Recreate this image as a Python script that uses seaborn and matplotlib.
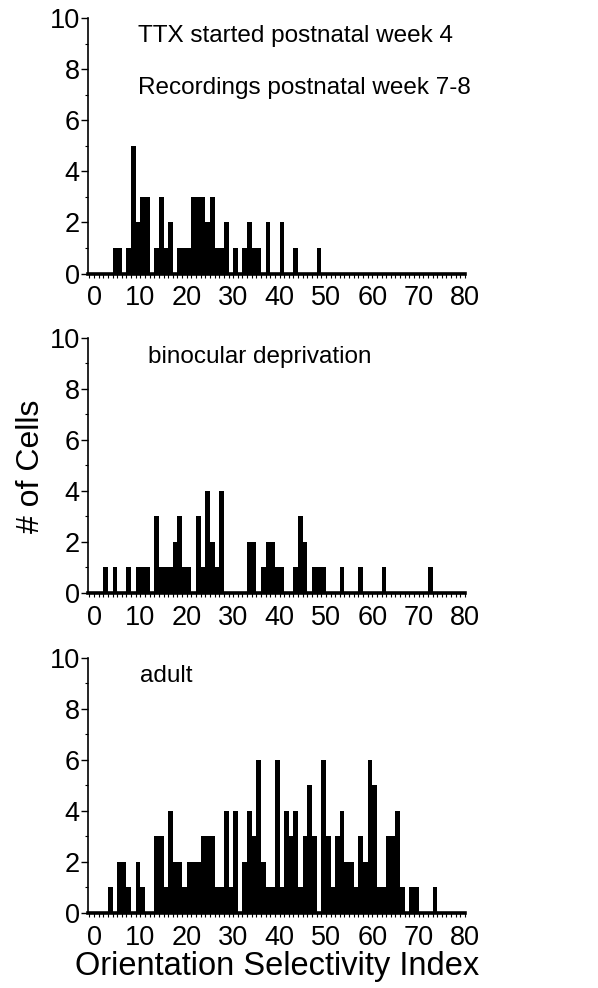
import numpy as np
import pandas as pd
import seaborn as sns
import matplotlib
matplotlib.use("Agg")
import matplotlib.pyplot as plt
from matplotlib.ticker import MultipleLocator

# Orientation selectivity index histograms (bin start, cell count), 1-unit bins
ttx_bins = [4, 5, 7, 8, 9, 10, 11, 13, 14, 15, 16, 18, 19, 20, 21, 22, 23, 24, 25,
            26, 27, 28, 30, 32, 33, 34, 35, 37, 40, 43, 48]
ttx_counts = [1, 1, 1, 5, 2, 3, 3, 1, 3, 1, 2, 1, 1, 1, 3, 3, 3, 2, 3,
              1, 1, 2, 1, 1, 2, 1, 1, 2, 2, 1, 1]

bd_bins = [2, 4, 7, 9, 10, 11, 13, 14, 15, 16, 17, 18, 19, 20, 22, 23, 24, 25, 26,
           27, 33, 34, 36, 37, 38, 39, 40, 43, 44, 45, 47, 48, 49, 53, 57, 62, 72]
bd_counts = [1, 1, 1, 1, 1, 1, 3, 1, 1, 1, 2, 3, 1, 1, 3, 1, 4, 2, 1,
             4, 2, 2, 1, 2, 2, 1, 1, 1, 3, 2, 1, 1, 1, 1, 1, 1, 1]

adult_bins = [3, 5, 6, 7, 9, 10, 13, 14, 15, 16, 17, 18, 19, 20, 21, 22, 23, 24, 25,
              26, 27, 28, 29, 30, 32, 33, 34, 35, 36, 37, 38, 39, 40, 41, 42, 43, 44,
              45, 46, 47, 49, 50, 51, 52, 53, 54, 55, 56, 57, 58, 59, 60, 61, 62, 63,
              64, 65, 66, 68, 69, 73]
adult_counts = [1, 2, 2, 1, 2, 1, 3, 3, 1, 4, 2, 2, 1, 2, 2, 2, 3, 3, 3,
                1, 1, 4, 1, 4, 2, 4, 3, 6, 2, 1, 1, 6, 1, 4, 3, 4, 1,
                3, 5, 3, 6, 3, 1, 3, 4, 2, 2, 1, 3, 2, 6, 5, 1, 1, 3,
                3, 4, 1, 1, 1, 1]

panel_titles = [["TTX started postnatal week 4", "Recordings postnatal week 7-8"],
                ["binocular deprivation"],
                ["adult"]]
x_ticks = [0, 10, 20, 30, 40, 50, 60, 70, 80]
y_ticks = [0, 2, 4, 6, 8, 10]

sns.set_theme(style="ticks")
plt.rcParams["font.family"] = ["Liberation Sans", "DejaVu Sans"]

W, H = 598, 988
fig = plt.figure(figsize=(W / 100, H / 100), dpi=100)

# axes placement in pixels: (zero line y, ten line y)
rows = [(273.5, 18), (592.7, 338), (912.7, 658)]
left_px, right_px = 88, 465

datasets = [(ttx_bins, ttx_counts), (bd_bins, bd_counts), (adult_bins, adult_counts)]
title_pos = [[(9.5, 9.3), (9.5, 7.25)], [(11.6, 9.25)], [(9.9, 9.3)]]

for (y0, y10), (b, c), titles, tpos in zip(rows, datasets, panel_titles, title_pos):
    ax = fig.add_axes([left_px / W, 1 - y0 / H, (right_px - left_px) / W, (y0 - y10) / H])
    df = pd.DataFrame({"osi": np.array(b, dtype=float) + 0.5,
                       "n": np.array(c, dtype=float)})
    sns.histplot(data=df, x="osi", weights="n", binwidth=1, binrange=(0, 80),
                 color="black", alpha=1, linewidth=0, edgecolor="black", ax=ax)
    ax.set_xlim(-1.3, 80)
    ax.set_ylim(0, 10)
    ax.set_xlabel("")
    ax.set_ylabel("")
    ax.set_xticks(x_ticks)
    ax.set_yticks(y_ticks)
    ax.xaxis.set_minor_locator(MultipleLocator(1))
    ax.yaxis.set_minor_locator(MultipleLocator(1))
    for s in ["top", "right"]:
        ax.spines[s].set_visible(False)
    ax.spines["bottom"].set_linewidth(2.6)
    ax.spines["left"].set_linewidth(1.2)
    ax.spines["bottom"].set_color("black")
    ax.spines["left"].set_color("black")
    ax.tick_params(axis="x", which="major", length=3, width=0.8, pad=5.5,
                   labelsize=19.5, colors="black")
    ax.tick_params(axis="x", which="minor", length=3, width=0.8, colors="black")
    ax.tick_params(axis="y", which="major", length=5, width=1.0, pad=1,
                   labelsize=19.5, colors="black")
    ax.tick_params(axis="y", which="minor", length=2.5, width=0.8, colors="black")
    for t, (tx, ty) in zip(titles, tpos):
        ax.text(tx, ty, t, fontsize=17.5, ha="left", va="center", color="black")

fig.text(31 / W, 1 - 466 / H, "# of Cells", rotation=90, ha="center", va="center",
         fontsize=23, color="black")
fig.text(277 / W, 1 - 966 / H, "Orientation Selectivity Index", ha="center",
         va="center", fontsize=23.5, color="black")

fig.savefig("out.png", dpi=100, facecolor="white")
